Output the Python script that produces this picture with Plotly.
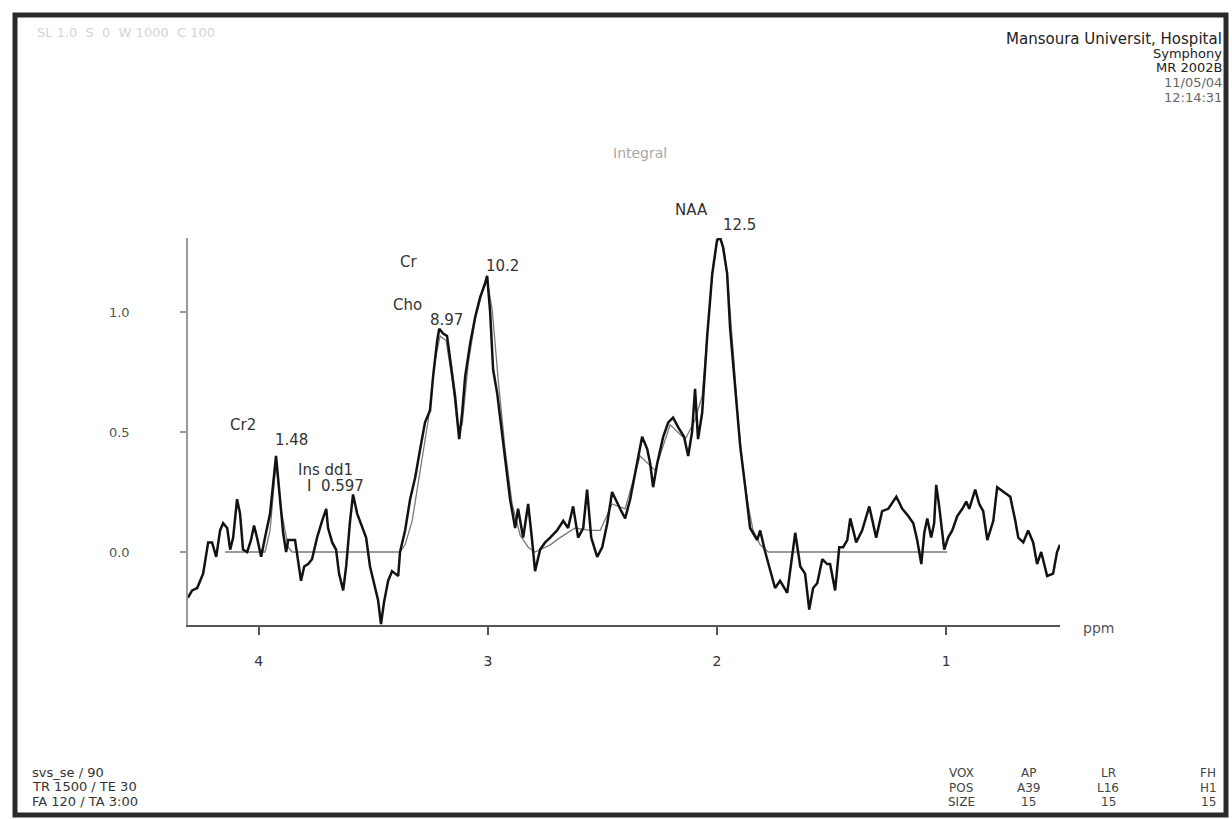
import plotly.graph_objects as go

# ---- spectrum (ppm, intensity) ----
spec_ppm = [4.308, 4.290, 4.268, 4.242, 4.220, 4.203, 4.185, 4.168, 4.155, 4.137,
            4.124, 4.111, 4.094, 4.081, 4.068, 4.050, 4.033, 4.020, 4.007, 3.989,
            3.972, 3.950, 3.924, 3.911, 3.893, 3.880, 3.871, 3.841, 3.828, 3.815,
            3.801, 3.784, 3.767, 3.745, 3.723, 3.705, 3.697, 3.679, 3.662, 3.649,
            3.631, 3.618, 3.601, 3.588, 3.570, 3.548, 3.531, 3.514, 3.496, 3.479,
            3.466, 3.453, 3.435, 3.418, 3.404, 3.391, 3.383, 3.361, 3.339, 3.317,
            3.295, 3.274, 3.252, 3.239, 3.221, 3.212, 3.195, 3.178, 3.164, 3.143,
            3.125, 3.112, 3.099, 3.077, 3.055, 3.034, 3.012, 3.003, 2.990, 2.977,
            2.959, 2.938, 2.925, 2.903, 2.881, 2.868, 2.846, 2.824, 2.807, 2.794,
            2.772, 2.750, 2.728, 2.698, 2.671, 2.650, 2.628, 2.606, 2.584, 2.567,
            2.549, 2.523, 2.501, 2.479, 2.458, 2.444, 2.423, 2.401, 2.379, 2.357,
            2.327, 2.305, 2.292, 2.279, 2.261, 2.235, 2.213, 2.192, 2.170, 2.144,
            2.126, 2.109, 2.096, 2.083, 2.065, 2.043, 2.021, 2.000, 1.987, 1.974,
            1.956, 1.943, 1.921, 1.899, 1.877, 1.856, 1.825, 1.812, 1.790, 1.768,
            1.747, 1.725, 1.694, 1.659, 1.637, 1.616, 1.598, 1.581, 1.563, 1.541,
            1.520, 1.507, 1.485, 1.467, 1.450, 1.432, 1.419, 1.393, 1.367, 1.336,
            1.306, 1.280, 1.253, 1.218, 1.192, 1.166, 1.144, 1.127, 1.109, 1.096,
            1.083, 1.066, 1.053, 1.044, 1.031, 1.009, 0.992, 0.974, 0.952, 0.930,
            0.913, 0.900, 0.874, 0.856, 0.839, 0.821, 0.795, 0.778, 0.752, 0.721,
            0.699, 0.686, 0.664, 0.643, 0.621, 0.604, 0.586, 0.560, 0.534, 0.517,
            0.504]
spec_val = [-0.19, -0.16, -0.15, -0.09, 0.04, 0.04, -0.02, 0.09, 0.12, 0.10,
            0.01, 0.06, 0.22, 0.16, 0.01, 0.00, 0.05, 0.11, 0.06, -0.02,
            0.06, 0.16, 0.40, 0.26, 0.08, 0.00, 0.05, 0.05, -0.04, -0.12,
            -0.06, -0.05, -0.03, 0.06, 0.13, 0.18, 0.10, 0.04, 0.01, -0.09,
            -0.16, -0.06, 0.13, 0.24, 0.16, 0.10, 0.06, -0.06, -0.13, -0.20,
            -0.30, -0.21, -0.12, -0.08, -0.09, -0.10, 0.00, 0.09, 0.22, 0.31,
            0.43, 0.54, 0.59, 0.73, 0.88, 0.93, 0.91, 0.90, 0.80, 0.65,
            0.47, 0.58, 0.73, 0.87, 0.98, 1.06, 1.12, 1.15, 1.00, 0.76,
            0.66, 0.50, 0.40, 0.22, 0.10, 0.18, 0.06, 0.20, 0.05, -0.08,
            0.01, 0.04, 0.06, 0.09, 0.13, 0.10, 0.19, 0.06, 0.10, 0.26,
            0.06, -0.02, 0.02, 0.12, 0.25, 0.22, 0.18, 0.14, 0.22, 0.33,
            0.48, 0.43, 0.37, 0.27, 0.37, 0.48, 0.54, 0.56, 0.52, 0.48,
            0.40, 0.50, 0.68, 0.47, 0.58, 0.90, 1.16, 1.30, 1.31, 1.27,
            1.16, 0.93, 0.69, 0.44, 0.27, 0.10, 0.05, 0.09, 0.00, -0.08,
            -0.15, -0.12, -0.17, 0.08, -0.06, -0.09, -0.24, -0.15, -0.13, -0.03,
            -0.05, -0.05, -0.16, 0.02, 0.02, 0.05, 0.14, 0.04, 0.09, 0.19,
            0.06, 0.17, 0.18, 0.23, 0.18, 0.15, 0.12, 0.05, -0.05, 0.08,
            0.14, 0.06, 0.12, 0.28, 0.19, 0.01, 0.06, 0.09, 0.15, 0.18,
            0.21, 0.18, 0.26, 0.20, 0.17, 0.05, 0.13, 0.27, 0.25, 0.23,
            0.13, 0.06, 0.04, 0.09, 0.04, -0.05, 0.00, -0.10, -0.09, 0.00,
            0.03]

# ---- fitted curve (ppm, intensity) ----
fit_ppm = [4.146, 3.972, 3.950, 3.924, 3.902, 3.871, 3.854, 3.383, 3.361, 3.330,
           3.295, 3.260, 3.230, 3.208, 3.182, 3.156, 3.130, 3.112, 3.086, 3.055,
           3.025, 3.003, 2.981, 2.955, 2.925, 2.894, 2.859, 2.824, 2.794, 2.772,
           2.728, 2.685, 2.619, 2.554, 2.510, 2.458, 2.401, 2.336, 2.270, 2.205,
           2.139, 2.096, 2.065, 2.043, 2.021, 2.000, 1.987, 1.969, 1.952, 1.930,
           1.908, 1.886, 1.865, 1.843, 1.812, 1.777, 0.996]
fit_val = [0.00, 0.00, 0.09, 0.37, 0.18, 0.02, 0.00, 0.00, 0.03, 0.13,
           0.34, 0.55, 0.80, 0.90, 0.88, 0.72, 0.51, 0.53, 0.78, 0.97,
           1.08, 1.13, 1.01, 0.72, 0.43, 0.20, 0.07, 0.02, 0.00, 0.01,
           0.03, 0.06, 0.10, 0.09, 0.09, 0.20, 0.18, 0.40, 0.34, 0.53,
           0.47, 0.55, 0.65, 0.90, 1.15, 1.29, 1.31, 1.26, 1.11, 0.84,
           0.55, 0.34, 0.20, 0.09, 0.03, 0.00, 0.00]

x_ticks = [4, 3, 2, 1]
y_ticks = [0.0, 0.5, 1.0]

# peak labels: (text, paper x, paper y)
peak_labels = [("NAA", 0.577, 1.072), ("12.5", 0.633, 1.034),
               ("Cr", 0.253, 0.938), ("10.2", 0.361, 0.928),
               ("Cho", 0.252, 0.827), ("8.97", 0.297, 0.788),
               ("Cr2", 0.063, 0.517), ("1.48", 0.119, 0.478),
               ("Ins dd1", 0.158, 0.400), ("I  0.597", 0.169, 0.359)]

header_lines = ["Mansoura Universit, Hospital", "Symphony", "MR 2002B", "11/05/04", "12:14:31"]
footer_left = ["svs_se / 90", "TR 1500 / TE 30", "FA 120 / TA 3:00"]
footer_right = [["VOX", "AP", "LR", "FH"], ["POS", "A39", "L16", "H1"], ["SIZE", "15", "15", "15"]]

FONT = "DejaVu Sans"

fig = go.Figure()
fig.add_trace(go.Scatter(x=fit_ppm, y=fit_val, mode="lines",
                         line=dict(color="#7a7a7a", width=1.3), hoverinfo="skip"))
fig.add_trace(go.Scatter(x=spec_ppm, y=spec_val, mode="lines",
                         line=dict(color="#121212", width=2.5), hoverinfo="skip"))

L, R, T, B = 188, 1060, 238, 625
W, H = 1232, 819


def px(x):
    return (x - L) / (R - L)


def py(y):
    return (B - y) / (B - T)


ann = []
for txt, xp, yp in peak_labels:
    ann.append(dict(text=txt, x=xp, y=yp, xref="paper", yref="paper", showarrow=False,
                    font=dict(family=FONT, size=15, color="#333333"),
                    xanchor="center", yanchor="middle"))

ann.append(dict(text="Integral", x=px(640), y=py(153), xref="paper", yref="paper",
                showarrow=False, font=dict(family=FONT, size=14, color="#a8a8a8"),
                xanchor="center", yanchor="middle"))
ann.append(dict(text="ppm", x=px(1098), y=py(628), xref="paper", yref="paper",
                showarrow=False, font=dict(family=FONT, size=14, color="#555555"),
                xanchor="center", yanchor="middle"))
ann.append(dict(text="SL 1.0  S  0  W 1000  C 100", x=px(35), y=py(32), xref="paper",
                yref="paper", showarrow=False,
                font=dict(family=FONT, size=13, color="#d4d4d4"),
                xanchor="left", yanchor="middle"))

for i, line in enumerate(header_lines):
    ann.append(dict(text=line, x=px(1224), y=py(39 + 14.5 * i), xref="paper", yref="paper",
                    showarrow=False,
                    font=dict(family=FONT, size=15 if i == 0 else 13,
                              color="#222222" if i < 3 else "#666666"),
                    xanchor="right", yanchor="middle"))

for i, line in enumerate(footer_left):
    ann.append(dict(text=line, x=px(30), y=py(772 + 14.5 * i), xref="paper", yref="paper",
                    showarrow=False, font=dict(family=FONT, size=13, color="#333333"),
                    xanchor="left", yanchor="middle"))

col_x = [961, 1028, 1108, 1208]
for r, row in enumerate(footer_right):
    for c, txt in enumerate(row):
        ann.append(dict(text=txt, x=px(col_x[c]), y=py(773 + 14.5 * r), xref="paper",
                        yref="paper", showarrow=False,
                        font=dict(family=FONT, size=12, color="#444444"),
                        xanchor="center", yanchor="middle"))

shapes = [dict(type="rect", xref="paper", yref="paper",
               x0=px(15), x1=px(1226), y0=py(815), y1=py(15),
               line=dict(color="#2a2a2a", width=5), fillcolor="rgba(0,0,0,0)", layer="below")]

fig.update_layout(
    width=W, height=H,
    margin=dict(l=L, r=W - R, t=T, b=H - B, pad=0),
    paper_bgcolor="white", plot_bgcolor="white",
    showlegend=False,
    font=dict(family=FONT, color="#333333"),
    annotations=ann, shapes=shapes,
    xaxis=dict(range=[4.308, 0.504], tickvals=x_ticks, ticktext=[str(v) for v in x_ticks],
               showgrid=False, zeroline=False, showline=True, linecolor="#555555", linewidth=2,
               ticks="outside", ticklen=8, tickcolor="#555555", tickwidth=1.5,
               ticklabelstandoff=14, tickfont=dict(family=FONT, size=14, color="#333333")),
    yaxis=dict(range=[-0.304, 1.308], tickvals=y_ticks, tickformat=".1f",
               showgrid=False, zeroline=False, showline=True, linecolor="#9a9a9a", linewidth=1.5,
               ticks="outside", ticklen=6, tickcolor="#9a9a9a", tickwidth=1.5,
               ticklabelstandoff=48, tickfont=dict(family=FONT, size=13, color="#555555")),
)

fig.write_html("out.html", config={"displayModeBar": False},
               post_script="document.body.style.margin='0';")
